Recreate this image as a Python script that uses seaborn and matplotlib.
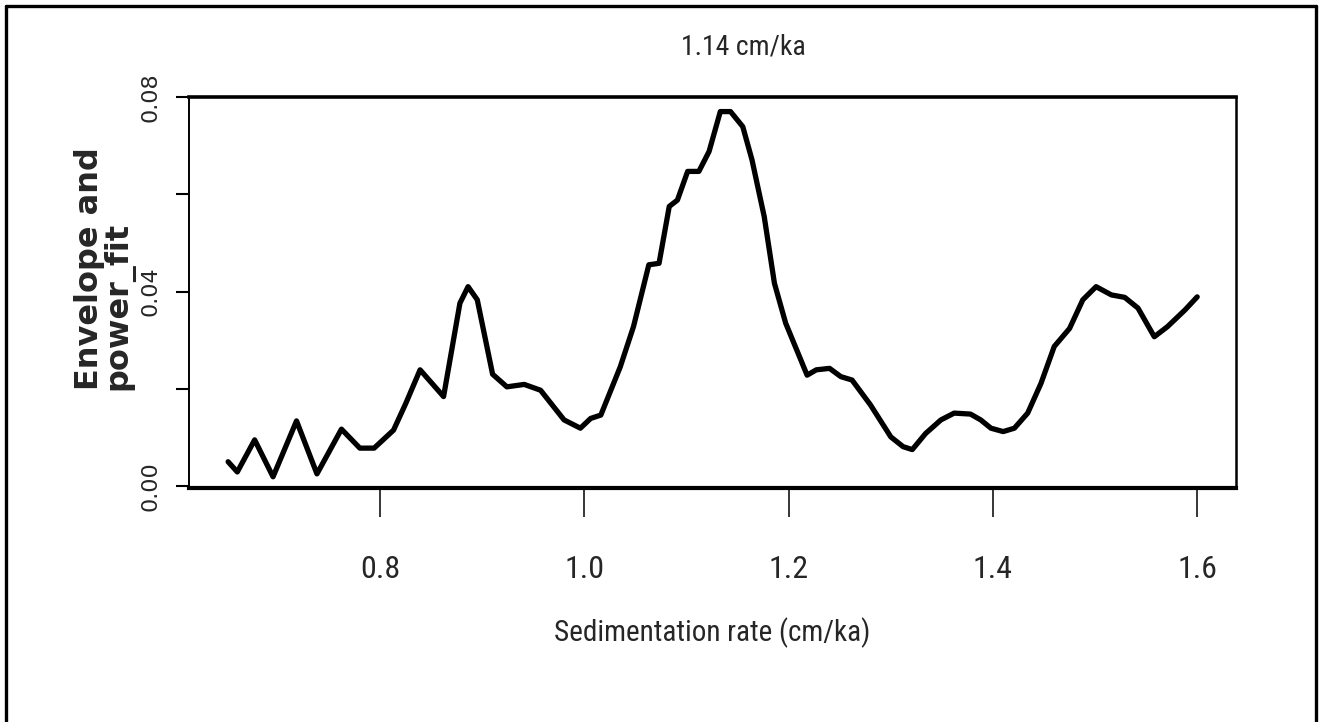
import matplotlib
matplotlib.use("Agg")
import matplotlib.pyplot as plt
from matplotlib import font_manager
from matplotlib.lines import Line2D
import pandas as pd
import seaborn as sns

# Sedimentation rate (cm/ka) and envelope / power fit
sed_rate = [0.651, 0.660, 0.677, 0.695, 0.718, 0.738, 0.762, 0.780, 0.794, 0.813,
            0.825, 0.839, 0.862, 0.878, 0.886, 0.895, 0.910, 0.924, 0.941, 0.957,
            0.980, 0.996, 1.006, 1.016, 1.035, 1.048, 1.063, 1.073, 1.083, 1.091,
            1.101, 1.112, 1.122, 1.133, 1.143, 1.155, 1.164, 1.176, 1.186, 1.197,
            1.218, 1.227, 1.240, 1.251, 1.262, 1.280, 1.300, 1.312, 1.321, 1.334,
            1.349, 1.362, 1.378, 1.388, 1.398, 1.410, 1.421, 1.434, 1.447, 1.460,
            1.475, 1.488, 1.501, 1.516, 1.529, 1.542, 1.558, 1.571, 1.588, 1.600]
envelope = [0.0050, 0.0029, 0.0095, 0.0019, 0.0134, 0.0025, 0.0117, 0.0078, 0.0078, 0.0115,
            0.0170, 0.0239, 0.0184, 0.0376, 0.0410, 0.0383, 0.0230, 0.0204, 0.0209, 0.0197,
            0.0136, 0.0119, 0.0139, 0.0146, 0.0245, 0.0328, 0.0455, 0.0458, 0.0575, 0.0588,
            0.0647, 0.0647, 0.0688, 0.0770, 0.0770, 0.0739, 0.0671, 0.0554, 0.0417, 0.0335,
            0.0228, 0.0239, 0.0242, 0.0225, 0.0218, 0.0167, 0.0101, 0.0081, 0.0075, 0.0108,
            0.0136, 0.0150, 0.0148, 0.0136, 0.0119, 0.0112, 0.0119, 0.0150, 0.0211, 0.0287,
            0.0324, 0.0383, 0.0410, 0.0393, 0.0388, 0.0366, 0.0307, 0.0328, 0.0362, 0.0389]

x_ticks = [0.8, 1.0, 1.2, 1.4, 1.6]
x_tick_labels = ["0.8", "1.0", "1.2", "1.4", "1.6"]
y_ticks = [0.00, 0.02, 0.04, 0.06, 0.08]
y_tick_labels = ["0.00", "", "0.04", "", "0.08"]

title_text = "1.14 cm/ka"
x_label = "Sedimentation rate (cm/ka)"
y_label = "Envelope and\npower_fit"

sns.set_style("white")


def pick_family(candidates, fallback):
    names = {f.name for f in font_manager.fontManager.ttflist}
    for fam in candidates:
        if fam in names:
            return fam
    return fallback


narrow = pick_family(["Liberation Sans Narrow", "Roboto Condensed",
                      "Open Sans Condensed"], "Liberation Sans")
plt.rcParams["font.family"] = ["DejaVu Sans"]

W, H = 1320, 722
fig = plt.figure(figsize=(W / 100, H / 100), dpi=100)
ax = fig.add_axes([189 / W, 1 - 488 / H, (1236 - 189) / W, (488 - 97) / H])

df = pd.DataFrame({"rate": sed_rate, "env": envelope})
sns.lineplot(data=df, x="rate", y="env", ax=ax, color="black", linewidth=3.8,
             sort=False, estimator=None)
for ln in ax.lines:
    ln.set_solid_joinstyle("round")
    ln.set_solid_capstyle("round")

ax.set_xlim(0.6127, 1.638)
ax.set_ylim(-0.0004, 0.08)

# axis frame: heavier top/bottom rules, lighter sides
ax.spines["top"].set_linewidth(2.6)
ax.spines["bottom"].set_linewidth(3.0)
ax.spines["left"].set_linewidth(1.4)
ax.spines["right"].set_linewidth(1.8)
for s in ax.spines.values():
    s.set_color("black")
    s.set_visible(True)

ax.set_xticks(x_ticks)
ax.set_xticklabels(x_tick_labels, family=narrow, fontsize=23)
ax.tick_params(axis="x", direction="out", length=21, width=1.1, pad=27,
               color="black", bottom=True)

ax.set_yticks(y_ticks)
ax.set_yticklabels(y_tick_labels, rotation=90, va="center", fontsize=16,
                   family="DejaVu Sans")
ax.tick_params(axis="y", direction="out", length=9.5, width=1.5, pad=11,
               color="black", left=True)

ax.set_xlabel(x_label, family=narrow, fontsize=21, va="center")
ax.xaxis.set_label_coords(0.5, -0.371)
ax.set_ylabel(y_label, fontsize=23, fontweight="bold", family="DejaVu Sans",
              va="center", ha="center", multialignment="left", linespacing=0.92)
ax.yaxis.set_label_coords(-0.081, 0.56)

fig.text(743 / W, 1 - 47 / H, title_text, ha="center", va="center",
         family=narrow, fontsize=20)

# outer frame (open at the bottom)
frame_kw = dict(transform=fig.transFigure, color="black", linewidth=2.4)
fig.add_artist(Line2D([6 / W, 6 / W], [0, 1 - 6 / H], **frame_kw))
fig.add_artist(Line2D([6 / W, 1316 / W], [1 - 6 / H, 1 - 6 / H], **frame_kw))
fig.add_artist(Line2D([1316 / W, 1316 / W], [0, 1 - 6 / H], **frame_kw))

fig.savefig("out.png", dpi=100, facecolor="white")
